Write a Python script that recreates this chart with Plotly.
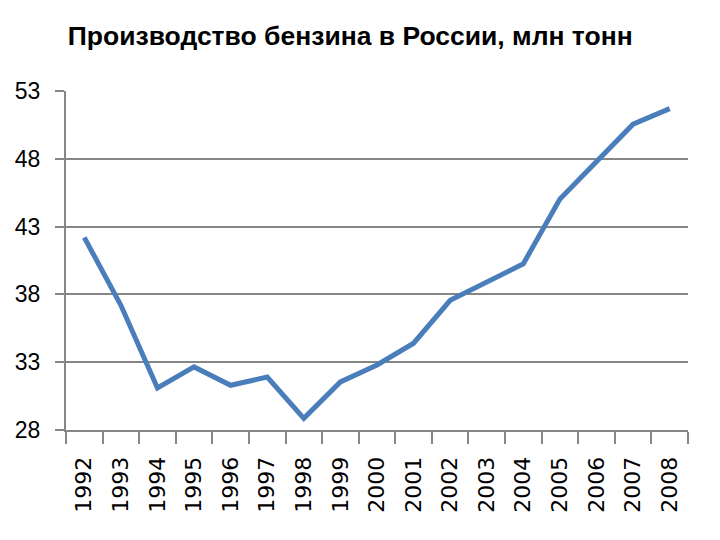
import plotly.graph_objects as go

years = ["1992", "1993", "1994", "1995", "1996", "1997", "1998", "1999", "2000",
         "2001", "2002", "2003", "2004", "2005", "2006", "2007", "2008"]
production = [42.2, 37.2, 31.1, 32.65, 31.3, 31.9, 28.86, 31.55, 32.8,
              34.4, 37.56, 38.9, 40.26, 45.04, 47.73, 50.55, 51.7]
y_ticks = [28, 33, 38, 43, 48, 53]
title_text = "Производство бензина в России, млн тонн"

fig = go.Figure()
fig.add_trace(go.Scatter(
    x=years, y=production, mode="lines",
    line=dict(color="#4A7EBB", width=5),
    showlegend=False,
))

fig.update_layout(
    width=720, height=540,
    paper_bgcolor="white", plot_bgcolor="white",
    margin=dict(l=58, r=40, t=83, b=118, autoexpand=False),
    title=dict(text=title_text, x=0.083, xanchor="left", y=0.948, yanchor="middle",
               yref="container",
               font=dict(family="Liberation Sans", size=26.5, color="#000000", weight="bold")),
    xaxis=dict(
        type="category", range=[-0.5, 16.5], automargin=False,
        tickson="boundaries", ticks="outside", ticklen=12,
        tickcolor="#868686", tickwidth=2, showgrid=False,
        showline=True, linecolor="#868686", linewidth=2,
        tickangle=-90, ticklabelstandoff=16,
        tickfont=dict(family="DejaVu Sans", size=22, color="#000000"),
    ),
    yaxis=dict(
        range=[28, 53], tickvals=y_ticks, ticktext=[str(v) for v in y_ticks],
        automargin=False,
        ticks="outside", ticklen=9, tickcolor="#868686", tickwidth=2,
        showgrid=True, gridcolor="#868686", gridwidth=2,
        showline=True, linecolor="#868686", linewidth=2, zeroline=False,
        ticklabelstandoff=10,
        tickfont=dict(family="Liberation Sans", size=23, color="#000000"),
    ),
)

fig.write_html("out.html")
